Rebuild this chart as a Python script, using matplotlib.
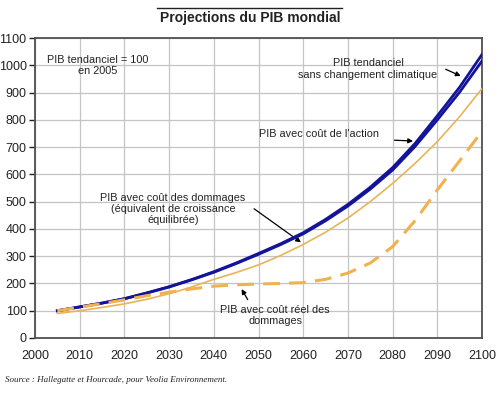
import matplotlib
matplotlib.use("Agg")
import matplotlib.pyplot as plt
from matplotlib.lines import Line2D

plt.rcParams['font.family'] = ['Liberation Sans', 'DejaVu Sans']

years = [2005, 2010, 2015, 2020, 2025, 2030, 2035, 2040, 2045, 2050,
         2055, 2060, 2065, 2070, 2075, 2080, 2085, 2090, 2095, 2100]
pib_tendanciel = [100, 114, 128, 144, 165, 188, 214, 243, 275, 310,
                  346, 386, 435, 490, 553, 625, 713, 815, 920, 1040]
pib_action = [100, 114, 128, 144, 165, 187, 213, 241, 273, 307,
              343, 382, 430, 484, 546, 616, 702, 800, 902, 1016]
pib_dommages = [90, 100, 112, 125, 142, 162, 187, 215, 240, 268,
                303, 343, 388, 440, 500, 567, 640, 720, 812, 915]
pib_reel = [100, 113, 126, 140, 155, 168, 180, 190, 195, 198,
            200, 203, 215, 238, 275, 335, 430, 543, 650, 758]

xticks = list(range(2000, 2101, 10))
yticks = list(range(0, 1101, 100))

fig = plt.figure(figsize=(5.0, 3.93), dpi=100)
ax = fig.add_axes([0.07, 0.14, 0.894, 0.763])

blue = "#14149a"
orange_thin = "#e8b458"
orange_dash = "#f0b24e"

ax.plot(years, pib_dommages, color=orange_thin, lw=1.2, zorder=3)
ax.plot(years, pib_tendanciel, color=blue, lw=2.0, zorder=4)
ax.plot(years, pib_action, color=blue, lw=2.0, zorder=4)
ax.plot(years, pib_reel, color=orange_dash, lw=2.2, dashes=(5.5, 3), zorder=5)

ax.set_xlim(2000, 2100)
ax.set_ylim(0, 1100)
ax.set_xticks(xticks)
ax.set_yticks(yticks)
ax.tick_params(axis='x', length=0, pad=9, labelsize=9, colors='#222222')
ax.tick_params(axis='y', length=4, width=1, pad=2, labelsize=9, colors='#222222')
ax.grid(True, color='#c4c4c4', lw=0.9)
ax.set_axisbelow(True)
for s in ax.spines.values():
    s.set_color('#505050')
    s.set_linewidth(1.3)

tk = dict(fontsize=7.8, color='#222222', ha='center', va='center')
ax.text(2014.0, 1000, "PIB tendanciel = 100\nen 2005", linespacing=1.15, **tk)
ax.text(2074.5, 987, "PIB tendanciel\nsans changement climatique", linespacing=1.15, **tk)
ax.text(2063.5, 747, "PIB avec coût de l'action", **tk)
ax.text(2030.9, 474, "PIB avec coût des dommages\n(équivalent de croissance\néquilibrée)", linespacing=1.1, **tk)
ax.text(2053.7, 83, "PIB avec coût réel des\ndommages", linespacing=1.1, **tk)

ap = dict(arrowstyle='-|>', color='black', lw=0.9, mutation_scale=7)
ax.annotate("", xy=(2095.8, 957), xytext=(2091.3, 990), arrowprops=ap)
ax.annotate("", xy=(2085.2, 722), xytext=(2079.8, 726), arrowprops=ap)
ax.annotate("", xy=(2060.0, 345), xytext=(2048.5, 480), arrowprops=ap)
ax.annotate("", xy=(2045.9, 188), xytext=(2047.9, 132), arrowprops=ap)

fig.text(0.5, 0.955, "Projections du PIB mondial", fontsize=10, fontweight='bold',
         ha='center', va='center', color='#222222')
fig.add_artist(Line2D([157/500, 342/500], [1 - 8/393, 1 - 8/393],
                      color='#222222', lw=1.0, transform=fig.transFigure))
fig.text(0.01, 1 - 380/393, "Source : Hallegatte et Hourcade, pour Veolia Environnement.",
         fontsize=6.5, family=['Liberation Serif', 'DejaVu Serif'], style='italic',
         ha='left', va='center', color='#222222')

fig.savefig("out.png", dpi=100)
